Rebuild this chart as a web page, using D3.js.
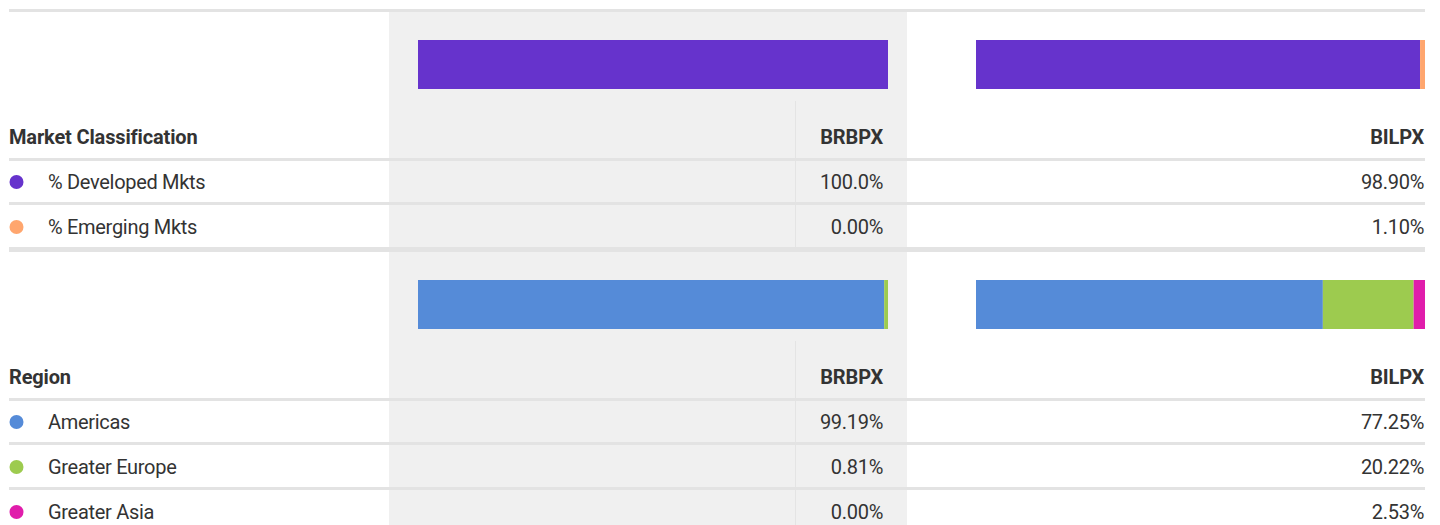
<!DOCTYPE html>
<html>
<head>
<meta charset="utf-8">
<script src="https://cdn.jsdelivr.net/npm/d3@7"></script>
<style>
  html, body { margin: 0; padding: 0; background: #fff; }
  svg { display: block; font-family: Roboto, "Noto Sans", sans-serif; }
  .label { font-size: 20px; letter-spacing: -0.3px; fill: #333; }
  .head { font-size: 20px; font-weight: 700; letter-spacing: -0.15px; fill: #333; }
  .rule { fill: #e3e3e3; }
</style>
</head>
<body>
<svg id="chart" width="1440" height="525"></svg>
<script>
const funds = ["BRBPX", "BILPX"];

const marketCategories = ["% Developed Mkts", "% Emerging Mkts"];
const marketBRBPX = [100.0, 0.00];
const marketBILPX = [98.90, 1.10];
const marketColors = ["#6633cc", "#ffa66e"];

const regionCategories = ["Americas", "Greater Europe", "Greater Asia"];
const regionBRBPX = [99.19, 0.81, 0.00];
const regionBILPX = [77.25, 20.22, 2.53];
const regionColors = ["#558bd8", "#9dcb4f", "#e01dab"];

const sections = [
  { title: "Market Classification", categories: marketCategories, values: [marketBRBPX, marketBILPX], colors: marketColors },
  { title: "Region", categories: regionCategories, values: [regionBRBPX, regionBILPX], colors: regionColors }
];

const svg = d3.select("#chart");
const height = 525;
const left = 9;
const right = 1425;

// column geometry for each fund
const columns = [
  { x0: 389, x1: 907, barX: [418, 888], textX: 883 },
  { x0: 907, x1: 1425, barX: [976, 1425], textX: 1424 }
];
const rowHeight = 45;
const headerLine = 146;

function formatPct(v) {
  return (v >= 100 ? v.toFixed(1) : v.toFixed(2)) + "%";
}

// shaded first fund column
svg.append("rect")
  .attr("x", columns[0].x0)
  .attr("y", 12)
  .attr("width", columns[0].x1 - columns[0].x0)
  .attr("height", height - 12)
  .attr("fill", "#f0f0f0");

// top rule
svg.append("rect").attr("class", "rule")
  .attr("x", left).attr("y", 9).attr("width", right - left).attr("height", 3);

const sectionTops = [12, 252];

sections.forEach((section, si) => {
  const top = sectionTops[si];
  const g = svg.append("g").attr("transform", `translate(0,${top})`);
  const rowsEnd = headerLine + 3 + section.categories.length * rowHeight;

  // thin divider inside the shaded column
  g.append("rect")
    .attr("x", 795).attr("y", 89)
    .attr("width", 1).attr("height", Math.min(rowsEnd, height - top) - 89)
    .attr("fill", "#e4e4e4");

  // stacked bars
  funds.forEach((fund, fi) => {
    const col = columns[fi];
    const x = d3.scaleLinear().domain([0, 100]).range(col.barX);
    const vals = section.values[fi];
    const stacked = vals.map((v, i) => ({
      start: d3.sum(vals.slice(0, i)),
      value: v,
      color: section.colors[i]
    }));

    g.append("g")
      .selectAll("rect")
      .data(stacked.filter(d => d.value > 0))
      .join("rect")
      .attr("x", d => x(d.start))
      .attr("y", 28)
      .attr("width", d => x(d.start + d.value) - x(d.start))
      .attr("height", 49)
      .attr("fill", d => d.color);

    // fund header
    g.append("text")
      .attr("class", "head")
      .attr("x", col.textX)
      .attr("y", 132)
      .attr("text-anchor", "end")
      .text(fund);

    // values
    g.append("g")
      .selectAll("text")
      .data(vals)
      .join("text")
      .attr("class", "label")
      .attr("x", col.textX)
      .attr("y", (d, i) => headerLine + 3 + i * rowHeight + 28)
      .attr("text-anchor", "end")
      .text(formatPct);
  });

  // section title
  g.append("text")
    .attr("class", "head")
    .attr("x", left)
    .attr("y", 132)
    .text(section.title);

  // header rule
  g.append("rect").attr("class", "rule")
    .attr("x", left).attr("y", headerLine).attr("width", right - left).attr("height", 3);

  const rows = g.append("g")
    .selectAll("g")
    .data(section.categories)
    .join("g")
    .attr("transform", (d, i) => `translate(0,${headerLine + 3 + i * rowHeight})`);

  rows.append("circle")
    .attr("cx", 16.5)
    .attr("cy", 21)
    .attr("r", 7)
    .attr("fill", (d, i) => section.colors[i]);

  rows.append("text")
    .attr("class", "label")
    .attr("x", 48)
    .attr("y", 28)
    .text(d => d);

  // row rules (last one of the first section is the thicker separator)
  rows.filter((d, i) => si === 0 || i < section.categories.length - 1)
    .append("rect")
    .attr("class", "rule")
    .attr("x", left)
    .attr("y", 41)
    .attr("width", right - left)
    .attr("height", (d, i) => i === section.categories.length - 1 ? 5 : 3);
});
</script>
</body>
</html>
